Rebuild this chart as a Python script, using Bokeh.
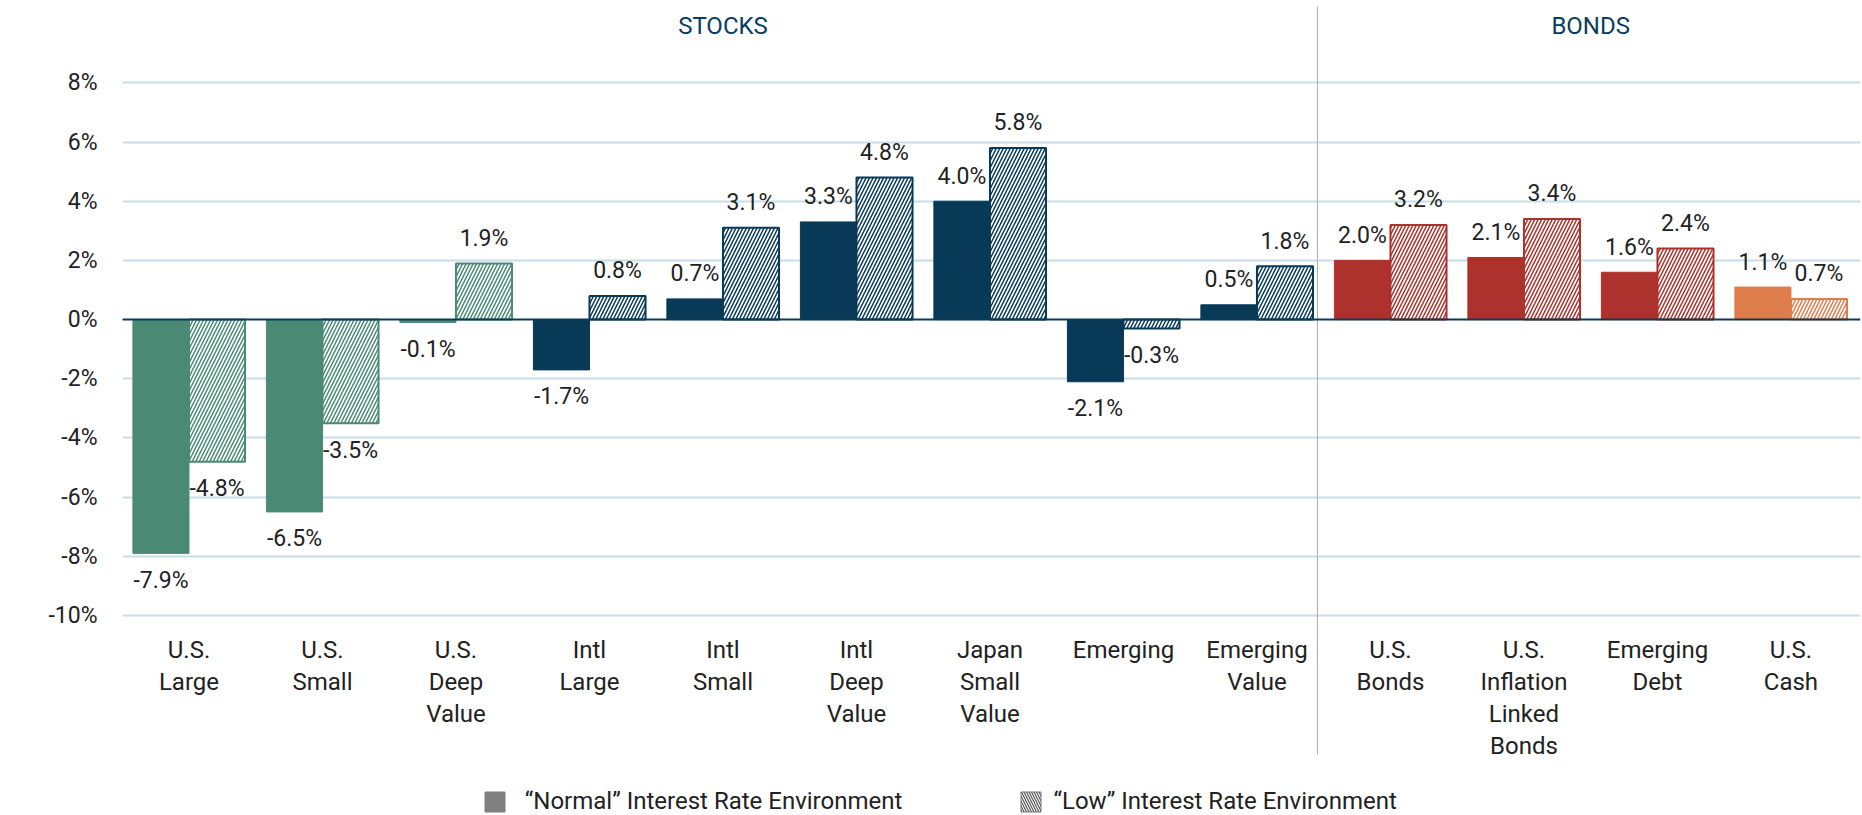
from bokeh.plotting import figure
from bokeh.models import ColumnDataSource, FixedTicker, Label, Legend, LegendItem, Span
from bokeh.core.properties import value
from bokeh.embed import file_html
from bokeh.resources import INLINE

# ---------------- data ----------------
categories = ["U.S.\nLarge", "U.S.\nSmall", "U.S.\nDeep\nValue", "Intl\nLarge", "Intl\nSmall",
              "Intl\nDeep\nValue", "Japan\nSmall\nValue", "Emerging", "Emerging\nValue",
              "U.S.\nBonds", "U.S.\nInflation\nLinked\nBonds", "Emerging\nDebt", "U.S.\nCash"]
normal = [-7.9, -6.5, -0.1, -1.7, 0.7, 3.3, 4.0, -2.1, 0.5, 2.0, 2.1, 1.6, 1.1]
low = [-4.8, -3.5, 1.9, 0.8, 3.1, 4.8, 5.8, -0.3, 1.8, 3.2, 3.4, 2.4, 0.7]
group_names = ["STOCKS", "BONDS"]
group_members = [list(range(0, 9)), list(range(9, 13))]
y_ticks = [-10, -8, -6, -4, -2, 0, 2, 4, 6, 8]
series_names = ["\u201cNormal\u201d Interest Rate Environment", "\u201cLow\u201d Interest Rate Environment"]

# ---------------- style ----------------
GREEN, NAVY, RED, ORANGE = "#4a8a75", "#083a57", "#ad312c", "#df7c4b"
colors = [GREEN] * 3 + [NAVY] * 6 + [RED] * 3 + [ORANGE]
FONT = value("Roboto")
TXT = "#222222"
BW = 0.42

idx = list(range(len(categories)))
x_norm = [i - BW / 2 for i in idx]
x_low = [i + BW / 2 for i in idx]

p = figure(width=1862, height=815, x_range=(-0.498, 12.521), y_range=(-16.759, 10.784),
           output_backend="svg", toolbar_location=None, x_axis_location=None,
           min_border_left=122, min_border_right=2, min_border_top=0, min_border_bottom=0)
p.outline_line_color = None
p.background_fill_color = "white"
p.border_fill_color = "white"
p.xgrid.visible = False

p.ygrid.ticker = FixedTicker(ticks=[t for t in y_ticks if t != 0])
p.ygrid.grid_line_color = "#c8dde7"
p.ygrid.grid_line_width = 2

ax = p.yaxis[0]
ax.ticker = FixedTicker(ticks=y_ticks)
ax.major_label_overrides = {t: f"{t}%" for t in y_ticks}
ax.axis_line_color = None
ax.major_tick_line_color = None
ax.minor_tick_line_color = None
ax.major_tick_out = 0
ax.major_tick_in = 0
ax.major_label_standoff = 25
ax.major_label_text_font = "Roboto"
ax.major_label_text_font_size = "23px"
ax.major_label_text_color = TXT

# bars
src_n = ColumnDataSource(dict(x=x_norm, top=normal, color=colors))
src_l = ColumnDataSource(dict(x=x_low, top=low, color=colors))
p.vbar(x="x", top="top", bottom=0, width=BW, source=src_n, fill_color="color", line_color="color", line_width=1)
p.vbar(x="x", top="top", bottom=0, width=BW, source=src_l, fill_color="white", line_color="color", line_width=2,
       hatch_pattern="/", hatch_color="color", hatch_weight=1.5, hatch_scale=7)

# zero line
p.add_layout(Span(location=0, dimension="width", line_color="#0b3a57", line_width=2))

# divider between stocks and bonds
p.segment(x0=[8.453], y0=[-14.70], x1=[8.453], y1=[10.58], line_color="#a9a9a9", line_width=1)

# data labels
def lab_src(xs, vals):
    return ColumnDataSource(dict(
        x=xs, y=vals, t=[f"{v:.1f}%" for v in vals],
        off=[-25 if v >= 0 else 27 for v in vals]))

for xs, vals in ((x_norm, normal), (x_low, low)):
    p.text(x="x", y="y", text="t", y_offset="off", source=lab_src(xs, vals), text_font=FONT,
           text_font_size="23px", text_color=TXT, text_align="center", text_baseline="middle")

# category labels
p.text(x=idx, y=[-10.676] * len(idx), text=categories, text_font=FONT, text_font_size="24px",
       text_color=TXT, text_align="center", text_baseline="top", text_line_height=1.15)

# group headers
gx = [sum(m) / len(m) for m in group_members]
p.text(x=gx, y=[9.915] * len(gx), text=group_names, text_font=FONT, text_font_size="24px",
       text_color="#0b3d5e", text_align="center", text_baseline="middle")

# y axis title
p.add_layout(Label(x=-99, y=-1.11, x_units="screen", y_units="data", text="Real Return Forecast",
                   angle=90, angle_units="deg", text_align="center", text_baseline="middle",
                   text_font="Roboto", text_font_size="24px", text_color="#0e3f5c"))

# legend (zero-size proxy renderers hidden under the zero line)
r1 = p.vbar(x=[-50], top=[0], bottom=[0], width=0, fill_color="#808080", line_color="#808080")
r2 = p.vbar(x=[-50], top=[0], bottom=[0], width=0, fill_color="white", line_color="#777777", line_width=1,
            hatch_pattern="\\", hatch_color="#555555", hatch_weight=1.2, hatch_scale=5)
for r, name, lx, so in ((r1, series_names[0], 359.8, 18), (r2, series_names[1], 895.5, 11)):
    leg = Legend(items=[LegendItem(label=name, renderers=[r])], location=(lx, 0),
                 orientation="horizontal", glyph_width=25, glyph_height=25, label_standoff=so,
                 padding=0, margin=0, border_line_color=None, background_fill_alpha=0,
                 label_text_font="Roboto", label_text_font_size="24px", label_text_color=TXT)
    p.add_layout(leg)

open("out.html", "w").write(file_html(p, INLINE))
